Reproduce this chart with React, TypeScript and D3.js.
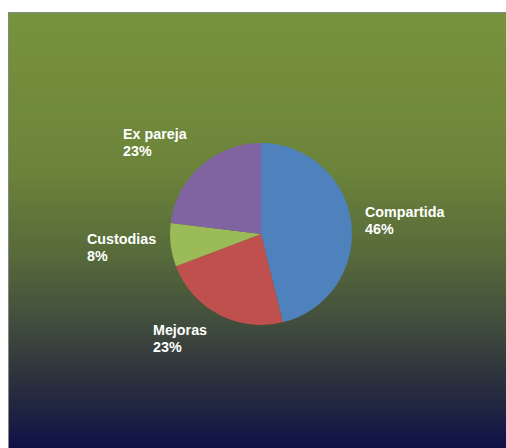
import React, { useEffect } from "react";
import * as d3 from "d3";

const categories = ["Compartida", "Mejoras", "Custodias", "Ex pareja"];
const values = [6, 3, 1, 3];
const percentLabels = ["46%", "23%", "8%", "23%"];
const colors = ["#4F81BD", "#C0504D", "#9BBB59", "#8064A2"];
const labelPositions: [number, number][] = [
  [365, 217],
  [153, 335],
  [87, 244],
  [123, 139],
];

export default function App() {
  const W = 506;
  const H = 448;
  const cx = 261;
  const cy = 234;
  const r = 91;
  useEffect(() => {
    document.body.style.overflow = "hidden";
  }, []);
  const pie = d3.pie<number>().sort(null).value((d) => d)(values);
  const arc = d3.arc<d3.PieArcDatum<number>>().innerRadius(0).outerRadius(r);
  return (
    <svg
      width={W}
      height={H}
      style={{ position: "absolute", left: 0, top: 0 }}
      fontFamily="'Liberation Sans', Arial, sans-serif"
    >
      <defs>
        <linearGradient id="bg" x1="0" y1="0" x2="0" y2="1">
          <stop offset="0" stopColor="#78933d" />
          <stop offset="0.35" stopColor="#6c843a" />
          <stop offset="0.55" stopColor="#56693b" />
          <stop offset="0.7" stopColor="#404c3d" />
          <stop offset="0.8" stopColor="#2f363d" />
          <stop offset="0.9" stopColor="#1d2142" />
          <stop offset="1" stopColor="#0a0a4a" />
        </linearGradient>
      </defs>
      <rect x={0} y={0} width={W} height={H} fill="#ffffff" />
      <rect x={8} y={12} width={W} height={H} fill="url(#bg)" />
      <line x1={8.5} y1={12} x2={8.5} y2={H} stroke="#868686" strokeWidth={1} />
      <line x1={8} y1={12.5} x2={W} y2={12.5} stroke="#868686" strokeWidth={1} />
      <g transform={`translate(${cx},${cy})`}>
        {pie.map((p, i) => (
          <path key={categories[i]} d={arc(p) || ""} fill={colors[i]} />
        ))}
      </g>
      {categories.map((c, i) => (
        <text
          key={c}
          x={labelPositions[i][0]}
          y={labelPositions[i][1]}
          fill="#ffffff"
          fontWeight="bold"
          fontSize={14.3}
        >
          <tspan x={labelPositions[i][0]}>{c}</tspan>
          <tspan x={labelPositions[i][0]} dy={17}>
            {percentLabels[i]}
          </tspan>
        </text>
      ))}
    </svg>
  );
}
